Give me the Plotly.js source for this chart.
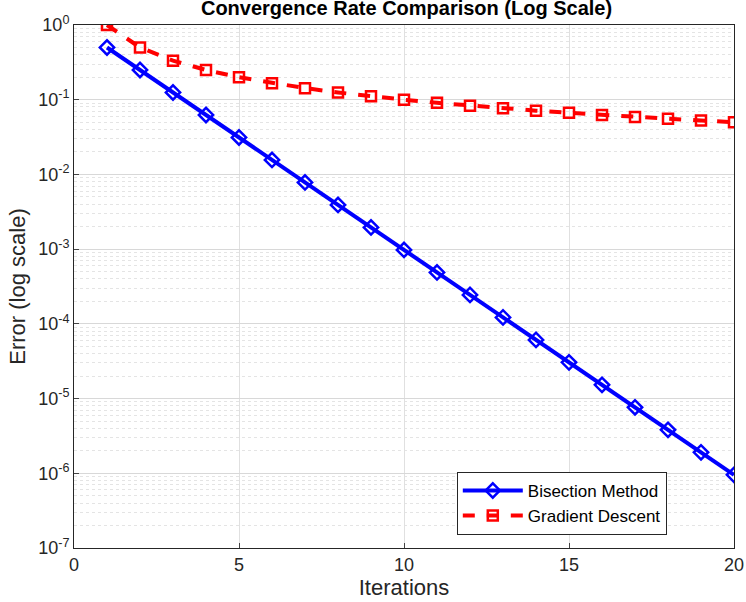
<!DOCTYPE html>
<html><head><script src="https://cdn.plot.ly/plotly-3.0.1.min.js"></script></head>
<body style="margin:0"><div id="c" style="width:746px;height:602px"></div>
<script>
const iterations=[1,2,3,4,5,6,7,8,9,10,11,12,13,14,15,16,17,18,19,20];
const bisection=[0.5,0.25,0.125,0.0625,0.03125,0.015625,0.0078125,0.00390625,0.001953125,0.0009765625,0.00048828125,0.000244140625,0.0001220703125,0.00006103515625,0.000030517578125,0.0000152587890625,0.00000762939453125,0.000003814697265625,0.0000019073486328125,0.00000095367431640625];
const gradient=[1,0.5,0.3333,0.25,0.2,0.1667,0.1429,0.125,0.1111,0.1,0.0909,0.0833,0.0769,0.0714,0.0667,0.0625,0.0588,0.0556,0.0526,0.05];
const yTickVals=[1e-7,1e-6,1e-5,1e-4,1e-3,1e-2,1e-1,1];
const yTickText=['10<sup>-7</sup>','10<sup>-6</sup>','10<sup>-5</sup>','10<sup>-4</sup>','10<sup>-3</sup>','10<sup>-2</sup>','10<sup>-1</sup>','10<sup>0</sup>'];
const data=[
{x:iterations,y:bisection,name:'Bisection Method',mode:'lines+markers',line:{color:'#0000ff',width:4},marker:{symbol:'diamond-open',size:11,color:'#0000ff',line:{width:2.5,color:'#0000ff'}}},
{x:iterations,y:gradient,name:'Gradient Descent',mode:'lines+markers',line:{color:'#ff0000',width:4,dash:'dash'},marker:{symbol:'square-open',size:10,color:'#ff0000',line:{width:2.5,color:'#ff0000'}}}
];
const layout={
width:746,height:602,margin:{l:74,r:12,t:25,b:54},
paper_bgcolor:'white',plot_bgcolor:'white',
font:{family:'Liberation Sans, Arial',size:18,color:'#262626'},
title:{text:'<b>Convergence Rate Comparison (Log Scale)</b>',x:0.545,xanchor:'center',y:0.998,yanchor:'top',font:{size:20,color:'black'}},
xaxis:{range:[0,20],dtick:5,title:{text:'Iterations',standoff:2},showline:true,mirror:true,linecolor:'#262626',linewidth:1,gridcolor:'#e0e0e0',zeroline:false,ticks:'inside',ticklen:5},
yaxis:{type:'log',range:[-7,0],tickvals:yTickVals,ticktext:yTickText,title:{text:'Error (log scale)',standoff:6},showline:true,mirror:true,linecolor:'#262626',linewidth:1,gridcolor:'#d8d8d8',zeroline:false,ticks:'inside',ticklen:5,
 minor:{dtick:'D1',showgrid:true,gridcolor:'#e4e4e4',griddash:'dot',ticks:''}},
legend:{x:0.58,y:0.025,xanchor:'left',yanchor:'bottom',bordercolor:'#262626',borderwidth:1,bgcolor:'white',font:{size:17,color:'black'},itemwidth:60,tracegroupgap:0},
showlegend:true
};
Plotly.newPlot('c',data,layout,{displayModeBar:false});
</script></body></html>
